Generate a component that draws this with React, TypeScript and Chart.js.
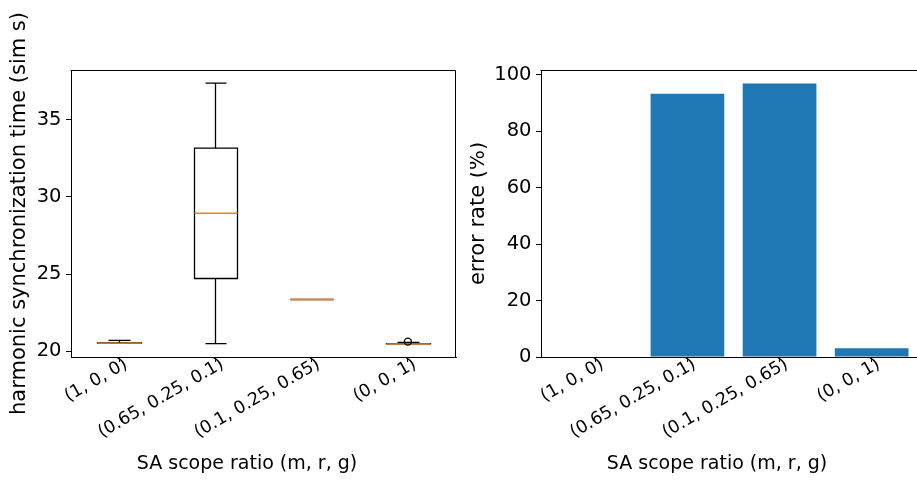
import React, { useEffect, useRef } from 'react';
import { Chart, registerables } from 'chart.js';

Chart.register(...registerables);

// SA scope ratio settings (m, r, g)
const ratioLabels = ['(1, 0, 0)', '(0.65, 0.25, 0.1)', '(0.1, 0.25, 0.65)', '(0, 0, 1)'];
const boxPositions = [1, 2, 3, 4];
const barPositions = [0, 1, 2, 3];

// harmonic synchronization time (sim s): box statistics per ratio
const whiskerLow = [20.52, 20.49, 23.35, 20.47];
const quartile1 = [20.52, 24.71, 23.35, 20.47];
const medians = [20.52, 28.94, 23.35, 20.47];
const quartile3 = [20.53, 33.16, 23.35, 20.48];
const whiskerHigh = [20.7, 37.38, 23.35, 20.57];
const flierPositions = [4];
const flierValues = [20.62];
const syncTicks = [20, 25, 30, 35];

// error rate (%) per ratio
const errorRates = [0, 93.2, 96.8, 3.1];
const errorTicks = [0, 20, 40, 60, 80, 100];

const FONT = "'DejaVu Sans', sans-serif";
const BOX_WIDTH = 0.45;
const LINE_W = 1.3;
const CANVAS_W = 470;
const CANVAS_H = 482;

// top and right spines
const framePlugin = {
  id: 'frame',
  afterDraw(chart: any) {
    const { ctx, chartArea: a } = chart;
    ctx.save();
    ctx.strokeStyle = '#000';
    ctx.lineWidth = 1;
    ctx.beginPath();
    ctx.moveTo(Math.round(a.left) - 0.5, Math.round(a.top) + 0.5);
    ctx.lineTo(Math.round(a.right) - 0.5, Math.round(a.top) + 0.5);
    ctx.lineTo(Math.round(a.right) - 0.5, Math.round(a.bottom));
    ctx.stroke();
    ctx.restore();
  },
};

function axisTitlePlugin(xTitle: string, yTitle: string, yTitleGap: number) {
  return {
    id: 'axisTitles',
    afterDraw(chart: any) {
      const { ctx, chartArea: a } = chart;
      ctx.save();
      ctx.fillStyle = '#000';
      ctx.textAlign = 'center';
      ctx.textBaseline = 'middle';
      ctx.font = `19px ${FONT}`;
      ctx.fillText(xTitle, (a.left + a.right) / 2 - 16.5, a.bottom + 107);
      ctx.translate(a.left - yTitleGap, (a.top + a.bottom) / 2);
      ctx.rotate(-Math.PI / 2);
      ctx.font = `21px ${FONT}`;
      ctx.fillText(yTitle, 0, 0);
      ctx.restore();
    },
  };
}

// boxes, whiskers, caps and medians
const boxPlugin = {
  id: 'boxes',
  beforeDatasetsDraw(chart: any) {
    const { ctx } = chart;
    const xs = chart.scales.x;
    const ys = chart.scales.y;
    const snapX = (v: number) => Math.round(v) + 0.5;
    ctx.save();
    ctx.lineWidth = LINE_W;
    boxPositions.forEach((pos, i) => {
      const cx = snapX(xs.getPixelForValue(pos));
      const left = snapX(xs.getPixelForValue(pos - BOX_WIDTH / 2));
      const right = snapX(xs.getPixelForValue(pos + BOX_WIDTH / 2));
      const capL = snapX(xs.getPixelForValue(pos - BOX_WIDTH / 4));
      const capR = snapX(xs.getPixelForValue(pos + BOX_WIDTH / 4));
      const yLo = ys.getPixelForValue(whiskerLow[i]);
      const yQ1 = ys.getPixelForValue(quartile1[i]);
      const yMed = ys.getPixelForValue(medians[i]);
      const yQ3 = ys.getPixelForValue(quartile3[i]);
      const yHi = ys.getPixelForValue(whiskerHigh[i]);

      ctx.strokeStyle = '#000';
      ctx.beginPath();
      // box
      ctx.moveTo(left, yQ1);
      ctx.lineTo(right, yQ1);
      ctx.lineTo(right, yQ3);
      ctx.lineTo(left, yQ3);
      ctx.closePath();
      // whiskers
      ctx.moveTo(cx, yQ1);
      ctx.lineTo(cx, yLo);
      ctx.moveTo(cx, yQ3);
      ctx.lineTo(cx, yHi);
      // caps
      ctx.moveTo(capL, yLo);
      ctx.lineTo(capR, yLo);
      ctx.moveTo(capL, yHi);
      ctx.lineTo(capR, yHi);
      ctx.stroke();

      ctx.strokeStyle = '#ff7f0e';
      ctx.beginPath();
      ctx.moveTo(left, yMed);
      ctx.lineTo(right, yMed);
      ctx.stroke();
    });
    ctx.restore();
  },
};

function makeScales(positions: number[], xMin: number, xMax: number, yTicks: number[], yMin: number, yMax: number) {
  const grid = {
    offset: false,
    drawOnChartArea: false,
    drawTicks: true,
    tickLength: 5,
    color: '#000',
    lineWidth: 1,
  };
  return {
    x: {
      type: 'linear',
      offset: false,
      min: xMin,
      max: xMax,
      afterBuildTicks: (s: any) => {
        s.ticks = positions.map((v) => ({ value: v }));
      },
      afterFit: (s: any) => {
        s.height = CANVAS_H - 357;
      },
      ticks: {
        callback: (_v: any, i: number) => ratioLabels[i],
        font: { family: FONT, size: 17.5 },
        color: '#000',
        minRotation: 30,
        maxRotation: 30,
        autoSkip: false,
        padding: -8,
        labelOffset: 7,
      },
      grid,
      border: { display: true, color: '#000', width: 1 },
    },
    y: {
      type: 'linear',
      min: yMin,
      max: yMax,
      afterBuildTicks: (s: any) => {
        s.ticks = yTicks.map((v) => ({ value: v }));
      },
      afterFit: (s: any) => {
        s.width = 71;
      },
      ticks: {
        callback: (v: any) => String(v),
        font: { family: FONT, size: 19.5 },
        color: '#000',
        padding: 4.5,
      },
      grid,
      border: { display: true, color: '#000', width: 1 },
    },
  };
}

const commonOptions = {
  responsive: false,
  animation: false,
  events: [],
  layout: { padding: { left: 0, top: 70, right: CANVAS_W - 456, bottom: 0 } },
  plugins: { legend: { display: false }, tooltip: { enabled: false } },
};

function SyncTimeChart() {
  const ref = useRef<HTMLCanvasElement>(null);
  useEffect(() => {
    const chart = new Chart(ref.current as HTMLCanvasElement, {
      type: 'scatter',
      data: {
        datasets: [
          {
            data: flierPositions.map((x, i) => ({ x, y: flierValues[i] })),
            pointStyle: 'circle',
            pointRadius: 3.5,
            borderColor: '#000',
            backgroundColor: 'rgba(0,0,0,0)',
            borderWidth: 1.3,
          },
        ],
      },
      options: {
        ...commonOptions,
        scales: makeScales(boxPositions, 0.5, 4.5, syncTicks, 19.62, 38.23),
      } as any,
      plugins: [boxPlugin, framePlugin, axisTitlePlugin('SA scope ratio (m, r, g)', 'harmonic synchronization time (sim s)', 51)],
    });
    return () => chart.destroy();
  }, []);
  return (
    <canvas
      ref={ref}
      width={CANVAS_W}
      height={CANVAS_H}
      style={{ position: 'absolute', left: 0, top: 0, width: CANVAS_W, height: CANVAS_H }}
    />
  );
}

function ErrorRateChart() {
  const ref = useRef<HTMLCanvasElement>(null);
  useEffect(() => {
    const chart = new Chart(ref.current as HTMLCanvasElement, {
      type: 'bar',
      data: {
        datasets: [
          {
            data: barPositions.map((x, i) => ({ x, y: errorRates[i] })),
            backgroundColor: '#1f77b4',
            borderWidth: 0,
            categoryPercentage: 0.8,
            barPercentage: 1,
          },
        ],
      },
      options: {
        ...commonOptions,
        scales: makeScales(barPositions, -0.59, 3.59, errorTicks, 0, 101.6),
      } as any,
      plugins: [framePlugin, axisTitlePlugin('SA scope ratio (m, r, g)', 'error rate (%)', 62.5)],
    });
    return () => chart.destroy();
  }, []);
  return (
    <canvas
      ref={ref}
      width={CANVAS_W}
      height={CANVAS_H}
      style={{ position: 'absolute', left: CANVAS_W, top: 0, width: CANVAS_W, height: CANVAS_H }}
    />
  );
}

export default function App() {
  return (
    <div
      style={{
        position: 'absolute',
        left: 0,
        top: 0,
        width: 917,
        height: 482,
        overflow: 'hidden',
        background: '#fff',
      }}
    >
      <SyncTimeChart />
      <ErrorRateChart />
    </div>
  );
}
